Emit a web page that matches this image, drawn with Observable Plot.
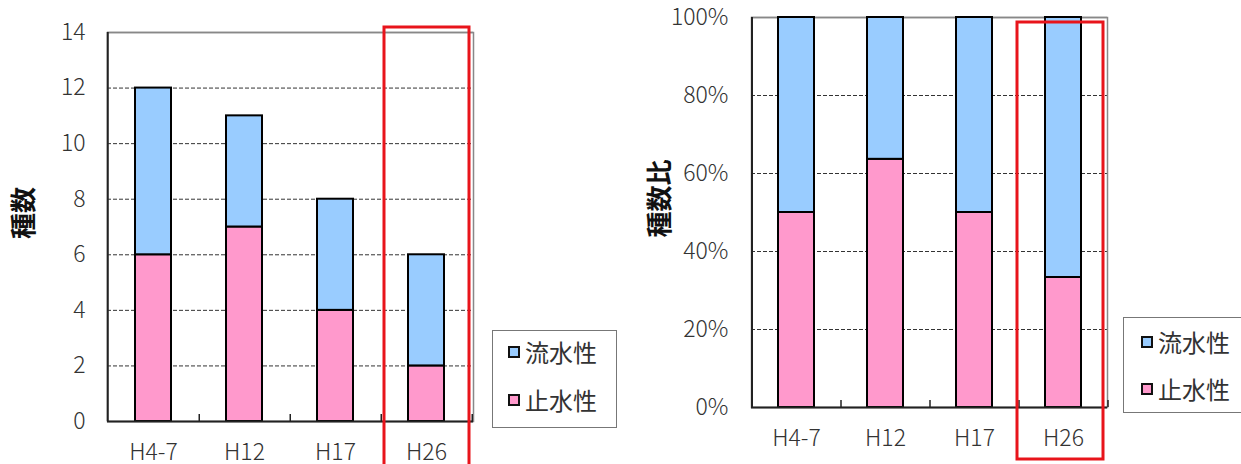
<!DOCTYPE html>
<html>
<head>
<meta charset="utf-8">
<script src="https://cdn.jsdelivr.net/npm/d3@7"></script>
<script src="https://cdn.jsdelivr.net/npm/@observablehq/plot@0.6"></script>
<style>
  html, body { margin: 0; padding: 0; background: #fff; }
  #root { position: relative; width: 1241px; height: 464px; overflow: hidden; font-family: 'Noto Sans CJK JP', sans-serif; }
  .chart { position: absolute; top: 0; }
  .legend { position: absolute; border: 1.5px solid #777; background: #fff; box-sizing: border-box; }
  .item { position: absolute; display: flex; align-items: center; font-size: 24px; color: #333; line-height: 1; }
  .sw { width: 8px; height: 8px; border: 2px solid #111; margin-right: 5px; }
</style>
</head>
<body>
<div id="root"></div>
<script>
// ---- data ----
const categories = ["H4-7", "H12", "H17", "H26"];
const stillWater = [6, 7, 4, 2];     // 止水性
const flowingWater = [6, 4, 4, 4];   // 流水性
const seriesNames = ["止水性", "流水性"];
const seriesColors = ["#FF99CC", "#99CCFF"];
const legendOrder = ["流水性", "止水性"];
const countTicks = [0, 2, 4, 6, 8, 10, 12, 14];
const countGrid = [2, 4, 6, 8, 10, 12];
const shareTicks = [0, 0.2, 0.4, 0.6, 0.8, 1];
const shareGrid = [0.2, 0.4, 0.6, 0.8];
const highlighted = ["H26"];
const leftTitle = "種数";
const rightTitle = "種数比";

const rows = [];
categories.forEach((c, i) => {
  rows.push({cat: c, series: seriesNames[0], value: stillWater[i]});
  rows.push({cat: c, series: seriesNames[1], value: flowingWater[i]});
});

const font = "'Noto Sans CJK JP', sans-serif";
const root = document.getElementById("root");

function makeChart({width, marginLeft, marginTop, marginBottom, marginRight, yDomain, yTicks, yFmt, grid, offset, tickStep, tickLen, title, titleDx, titleDy, hlInsetTop, hlInsetBottom, hlInsetLeft, hlInsetRight, xPad, yPad}) {
  const top = yDomain[1];
  return Plot.plot({
    width, height: 464, marginLeft, marginTop, marginBottom, marginRight,
    style: {fontFamily: font, fontSize: "23px", fontWeight: 300, color: "#333", background: "transparent"},
    x: {domain: categories, paddingInner: 0.6, paddingOuter: 0.3, tickSize: 0, tickPadding: xPad, label: null},
    y: {domain: yDomain, ticks: yTicks, tickFormat: yFmt, tickSize: 0, tickPadding: yPad, label: null},
    color: {domain: seriesNames, range: seriesColors},
    marks: [
      Plot.ruleY(grid, {stroke: "#333", strokeWidth: 1, strokeDasharray: "4,2"}),
      Plot.ruleY([top], {stroke: "#888", strokeWidth: 1.5}),
      Plot.frame({stroke: "#888", strokeWidth: 1.5, fill: "none"}),
      Plot.barY(rows, Plot.stackY({x: "cat", y: "value", fill: "series", offset, stroke: "#000", strokeWidth: 2})),
      Plot.ruleY([0], {stroke: "#222", strokeWidth: 2}),
      Plot.ruleX([categories[0]], {stroke: "#222", strokeWidth: 2, dx: -tickStep / 2, y1: yDomain[0], y2: top}),
      Plot.ruleX(categories, {x: d => d, dx: tickStep / 2, y1: 0, y2: tickLen, stroke: "#222", strokeWidth: 1.5}),
      Plot.barY(highlighted, {x: d => d, y1: 0, y2: top, fill: "none", stroke: "#E8141B", strokeWidth: 3,
        insetTop: hlInsetTop, insetBottom: hlInsetBottom, insetLeft: hlInsetLeft, insetRight: hlInsetRight}),
      Plot.text([title], {frameAnchor: "left", textAnchor: "middle", rotate: -90, dx: titleDx, dy: titleDy, fontWeight: "bold", fontSize: 26, fill: "#111"})
    ]
  });
}

const left = makeChart({
  width: 480, marginLeft: 107, marginTop: 32, marginBottom: 43, marginRight: 7,
  yDomain: [0, 14], yTicks: countTicks, yFmt: d => String(d), grid: countGrid, offset: null,
  tickStep: 91.5, tickLen: 0.25, title: leftTitle, titleDx: -83, titleDy: -14,
  hlInsetTop: -5, hlInsetBottom: -60, hlInsetLeft: -24, hlInsetRight: -25, xPad: 22, yPad: 22
});
left.classList.add("chart");
left.style.left = "0px";
root.appendChild(left);

const right = makeChart({
  width: 497, marginLeft: 131, marginTop: 17, marginBottom: 57, marginRight: 10,
  yDomain: [0, 1], yTicks: shareTicks, yFmt: d => Math.round(d * 100) + "%", grid: shareGrid, offset: "normalize",
  tickStep: 89, tickLen: 0.018, title: rightTitle, titleDx: -91, titleDy: -14,
  hlInsetTop: 5, hlInsetBottom: -52, hlInsetLeft: -28, hlInsetRight: -22, xPad: 22, yPad: 23
});
right.classList.add("chart");
right.style.left = "620px";
root.appendChild(right);

function legend(x, y, w, h, itemX, itemYs) {
  const box = document.createElement("div");
  box.className = "legend";
  Object.assign(box.style, {left: x + "px", top: y + "px", width: w + "px", height: h + "px"});
  root.appendChild(box);
  legendOrder.forEach((name, i) => {
    const it = document.createElement("div");
    it.className = "item";
    Object.assign(it.style, {left: itemX + "px", top: (itemYs[i] - 13) + "px", height: "26px"});
    const sw = document.createElement("div");
    sw.className = "sw";
    sw.style.background = seriesColors[seriesNames.indexOf(name)];
    it.appendChild(sw);
    const t = document.createElement("span");
    t.textContent = name;
    it.appendChild(t);
    root.appendChild(it);
  });
}
legend(492, 330, 125, 98, 508, [352, 400]);
legend(1123, 317, 140, 96, 1141, [342, 389]);
</script>
</body>
</html>
